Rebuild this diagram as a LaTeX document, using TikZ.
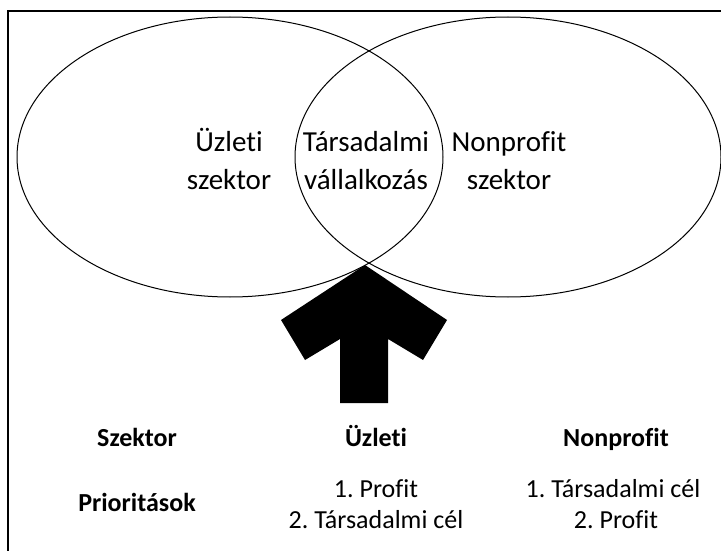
\documentclass[tikz,border=0pt]{standalone}
\usepackage{fontspec}
\setmainfont{Carlito}[Ligatures=CommonOff]
\usetikzlibrary{shapes.geometric}

\begin{document}
\frenchspacing
\begin{tikzpicture}[x=1pt, y=-1pt,
    sector/.style={shape = ellipse, draw = black, line width = 1pt, minimum width = 426pt, minimum height = 280pt, inner sep = 0pt},
    inside/.style={anchor = base, font = \fontsize{29}{37}\selectfont},
    head/.style={anchor = base, font = \fontsize{26}{32}\selectfont\bfseries},
    item/.style={anchor = base, font = \fontsize{26}{32}\selectfont}]
            \useasboundingbox (0, 0) rectangle (721, 551);
            \draw [line width = 1.5pt] (8, 11) rectangle (740, 570);

            \node [sector] (business) at (230, 157) {};
            \node [sector] (nonprofit) at (508, 157) {};

            \node [inside] (businesstop) at (229, 151) {Üzleti};
            \node [inside] (businessbottom) at (229, 189) {szektor};
            \node [inside] (socialtop) at (366, 151) {Társadalmi};
            \node [inside] (socialbottom) at (366, 189) {vállalkozás};
            \node [inside] (nonprofittop) at (509, 151) {Nonprofit};
            \node [inside] (nonprofitbottom) at (509, 189) {szektor};

            \fill [black] (365, 265) -- (447, 320) -- (423, 360) -- (388, 339) -- (388, 403)
                -- (340, 403) -- (340, 339) -- (305, 360) -- (281, 320) -- cycle;

            \node [head] (sectorhead) at (137, 446) {Szektor};
            \node [head] (businesshead) at (376, 446) {Üzleti};
            \node [head] (nonprofithead) at (616, 446) {Nonprofit};

            \node [head] (priorities) at (137, 511) {Prioritások};
            \node [item] (businessfirst) at (376, 497) {1. Profit};
            \node [item] (businesssecond) at (376, 528) {2. Társadalmi cél};
            \node [item] (nonprofitfirst) at (613, 497) {1. Társadalmi cél};
            \node [item] (nonprofitsecond) at (616, 528) {2. Profit};
        \end{tikzpicture}
\end{document}
